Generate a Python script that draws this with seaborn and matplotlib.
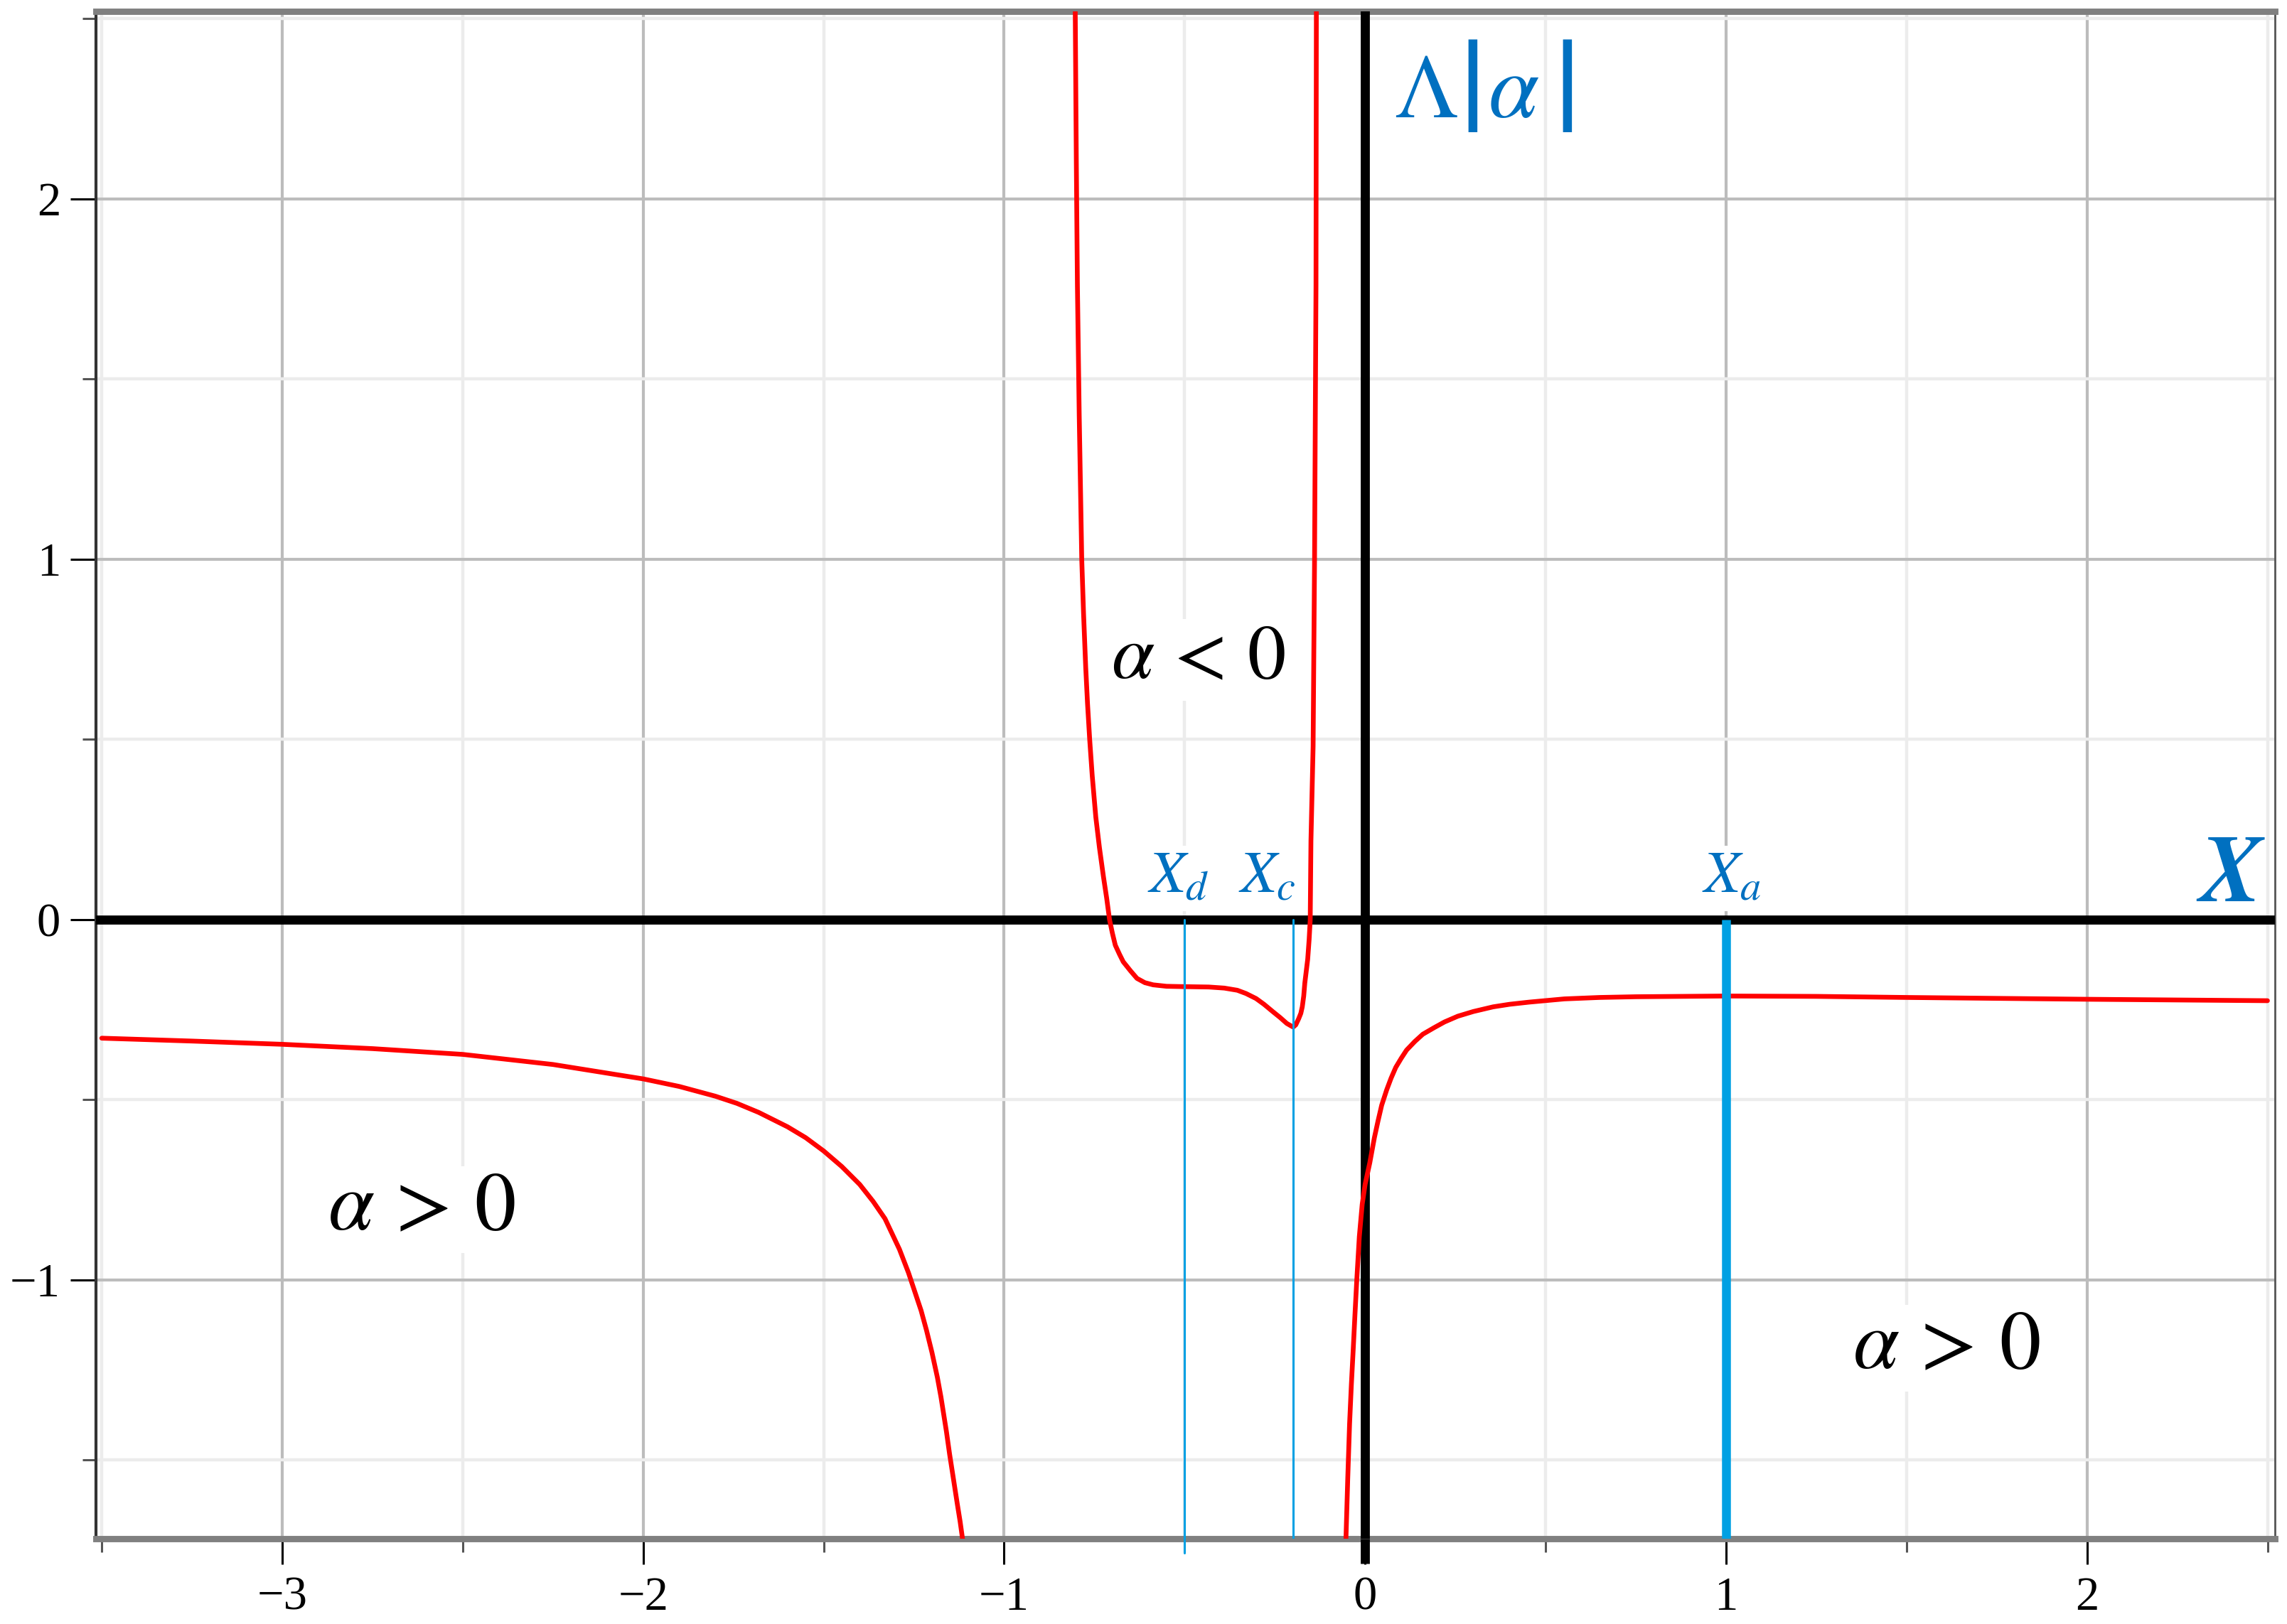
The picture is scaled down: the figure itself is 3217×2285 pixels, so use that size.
import numpy as np
import pandas as pd
import matplotlib
matplotlib.use("Agg")
import matplotlib.pyplot as plt
import seaborn as sns
from matplotlib.ticker import FixedLocator

# ---------------- data ----------------
branch1_x = [-3.5, -3.25, -3.0, -2.75, -2.5, -2.25, -2.0, -1.9, -1.8, -1.74, -1.68, -1.6,
             -1.55, -1.5, -1.45, -1.40, -1.363, -1.33, -1.29, -1.265, -1.25, -1.23, -1.215,
             -1.2, -1.185, -1.175, -1.16, -1.151, -1.14, -1.13, -1.122, -1.115]
branch1_y = [-0.329, -0.337, -0.346, -0.358, -0.374, -0.402, -0.442, -0.463, -0.490, -0.510,
             -0.535, -0.575, -0.605, -0.642, -0.685, -0.735, -0.782, -0.830, -0.915, -0.980,
             -1.025, -1.085, -1.140, -1.201, -1.270, -1.325, -1.420, -1.484, -1.555, -1.620,
             -1.670, -1.720]

branch2_x = [-0.803, -0.800, -0.797, -0.792, -0.785, -0.780, -0.774, -0.769, -0.763, -0.756,
             -0.746, -0.736, -0.725, -0.716, -0.708, -0.700, -0.692, -0.680, -0.670, -0.650,
             -0.632, -0.610, -0.587, -0.550, -0.500, -0.433, -0.390, -0.354, -0.330, -0.302,
             -0.280, -0.256, -0.235, -0.217, -0.205, -0.199, -0.192, -0.184, -0.178, -0.174,
             -0.170, -0.167, -0.163, -0.159, -0.155, -0.152, -0.150, -0.144, -0.140, -0.136,
             -0.135]
branch2_y = [2.521, 2.10, 1.76, 1.40, 1.00, 0.85, 0.70, 0.60, 0.50, 0.40,
             0.284, 0.20, 0.120, 0.060, 0.0, -0.038, -0.071, -0.097, -0.117, -0.142,
             -0.163, -0.175, -0.181, -0.185, -0.186, -0.187, -0.190, -0.196, -0.205, -0.219,
             -0.235, -0.255, -0.272, -0.288, -0.295, -0.298, -0.292, -0.275, -0.260, -0.242,
             -0.212, -0.176, -0.143, -0.110, -0.055, 0.0, 0.218, 0.481, 1.0, 1.76,
             2.521]

branch3_x = [-0.053, -0.048, -0.043, -0.038, -0.033, -0.028, -0.023, -0.016, -0.008, 0.0,
             0.013, 0.026, 0.036, 0.046, 0.06, 0.072, 0.085, 0.10, 0.115, 0.138, 0.16, 0.191,
             0.22, 0.257, 0.30, 0.355, 0.40, 0.454, 0.552, 0.65, 0.75, 1.0, 1.25, 1.5, 2.0, 2.5]
branch3_y = [-1.718, -1.55, -1.40, -1.29, -1.195, -1.095, -1.0, -0.88, -0.79, -0.735,
             -0.675, -0.604, -0.558, -0.515, -0.472, -0.44, -0.41, -0.385, -0.362, -0.338,
             -0.318, -0.300, -0.284, -0.268, -0.255, -0.242, -0.235, -0.229, -0.220, -0.216,
             -0.214, -0.212, -0.213, -0.216, -0.221, -0.225]

marker_names = ["d", "c", "a"]
marker_x = [-0.5, -0.2, 1.0]

x_major = [-3, -2, -1, 0, 1, 2]
x_minor = [-3.5, -2.5, -1.5, -0.5, 0.5, 1.5, 2.5]
y_major = [-1, 0, 1, 2]
y_minor = [-1.5, -0.5, 0.5, 1.5, 2.5]
x_labels = ["\u22123", "\u22122", "\u22121", "0", "1", "2"]
y_labels = ["\u22121", "0", "1", "2"]

XLIM = (-3.516, 2.521)
YLIM = (-1.718, 2.521)

# ---------------- style ----------------
sns.set_theme(style="white")
plt.rcParams["font.family"] = ["Liberation Serif", "DejaVu Serif"]
plt.rcParams["mathtext.fontset"] = "stix"

DPI = 200
fig = plt.figure(figsize=(3217 / DPI, 2285 / DPI), dpi=DPI)
fig.patch.set_facecolor("white")
ax = fig.add_axes([0.04197, 0.05252, 0.9528, 0.9406])
ax.set_facecolor("white")

df = pd.concat([
    pd.DataFrame({"x": branch1_x, "y": branch1_y, "branch": "b1"}),
    pd.DataFrame({"x": branch2_x, "y": branch2_y, "branch": "b2"}),
    pd.DataFrame({"x": branch3_x, "y": branch3_y, "branch": "b3"}),
], ignore_index=True)

sns.lineplot(data=df, x="x", y="y", units="branch", estimator=None, sort=False,
             color="#ff0000", linewidth=2.4, ax=ax, zorder=4, legend=False)
for ln in ax.get_lines():
    ln.set_solid_joinstyle("round")

ax.set_xlim(*XLIM)
ax.set_ylim(*YLIM)
ax.set_xlabel("")
ax.set_ylabel("")

# ticks & grid
ax.xaxis.set_major_locator(FixedLocator(x_major))
ax.xaxis.set_minor_locator(FixedLocator(x_minor))
ax.yaxis.set_major_locator(FixedLocator(y_major))
ax.yaxis.set_minor_locator(FixedLocator(y_minor))
ax.set_xticklabels(x_labels)
ax.set_yticklabels(y_labels)
ax.set_axisbelow(True)
ax.grid(which="major", color="#bcbcbc", linewidth=1.5)
ax.grid(which="minor", color="#ececec", linewidth=1.6)

ax.tick_params(axis="both", which="major", direction="out", length=13, width=1.1,
               color="black", labelsize=24, labelcolor="black")
ax.tick_params(axis="both", which="minor", direction="out", length=7, width=1.1,
               color="#555555")
ax.tick_params(axis="x", which="major", pad=6)
ax.tick_params(axis="y", which="major", pad=5)
ax.tick_params(bottom=True, left=True, which="both")

for side in ["top", "bottom"]:
    ax.spines[side].set_color("#808080")
    ax.spines[side].set_linewidth(3.2)
ax.spines["left"].set_color("#333333")
ax.spines["left"].set_linewidth(1.5)
ax.spines["right"].set_color("#555555")
ax.spines["right"].set_linewidth(1.0)

# bold coordinate axes
ax.axhline(0, color="black", linewidth=4.6, zorder=3.5)
ax.axvline(0, color="black", linewidth=4.6, zorder=3.5)
ax.plot([0, 0], [YLIM[0], YLIM[0] - 0.07], color="black", linewidth=4.6,
        clip_on=False, zorder=3.5, solid_capstyle="butt")

# blue marker lines
blue = "#00a0e3"
ax.plot([marker_x[0], marker_x[0]], [0, YLIM[0] - 0.04], color=blue, linewidth=1.1,
        clip_on=False, zorder=5)
ax.plot([marker_x[1], marker_x[1]], [0, YLIM[0]], color=blue, linewidth=1.1, zorder=5)
ax.plot([marker_x[2], marker_x[2]], [0, YLIM[0]], color=blue, linewidth=4.5, zorder=5,
        solid_capstyle="butt")

# labels
lab_blue = "#0070c0"
box = dict(facecolor="white", edgecolor="none", pad=3)
ax.text(-0.603, 0.075, r"$X_d$", fontsize=30, color=lab_blue, ha="left", va="baseline",
        bbox=box, zorder=3)
ax.text(-0.350, 0.075, r"$X_c$", fontsize=30, color=lab_blue, ha="left", va="baseline",
        bbox=box, zorder=3)
ax.text(0.933, 0.075, r"$X_a$", fontsize=30, color=lab_blue, ha="left", va="baseline",
        bbox=box, zorder=3)
ax.text(2.309, 0.051, "X", fontsize=48, color=lab_blue, ha="left", va="baseline",
        family="STIXGeneral", style="italic", weight="bold", zorder=3)

# Λ|α| : capital lambda, tall bars, italic alpha
ax.text(0.081, 2.227, r"$\Lambda$", fontsize=46, color=lab_blue, ha="left",
        va="baseline", zorder=3)
ax.text(0.341, 2.227, r"$\alpha$", fontsize=46, color=lab_blue, ha="left",
        va="baseline", zorder=3)
for bx in (0.287, 0.548):
    ax.text(bx, 2.281, r"$|$", fontsize=68, color=lab_blue, ha="center",
            va="center", zorder=3)

ax.text(-0.703, 0.67, r"$\alpha\,<\,0$", fontsize=39, color="black", ha="left",
        va="baseline", bbox=box, zorder=3)
ax.text(-2.874, -0.86, r"$\alpha\,>\,0$", fontsize=42, color="black", ha="left",
        va="baseline", bbox=box, zorder=3)
ax.text(1.351, -1.245, r"$\alpha\,>\,0$", fontsize=42, color="black", ha="left",
        va="baseline", bbox=box, zorder=3)

fig.savefig("out.png", dpi=DPI, facecolor="white")
